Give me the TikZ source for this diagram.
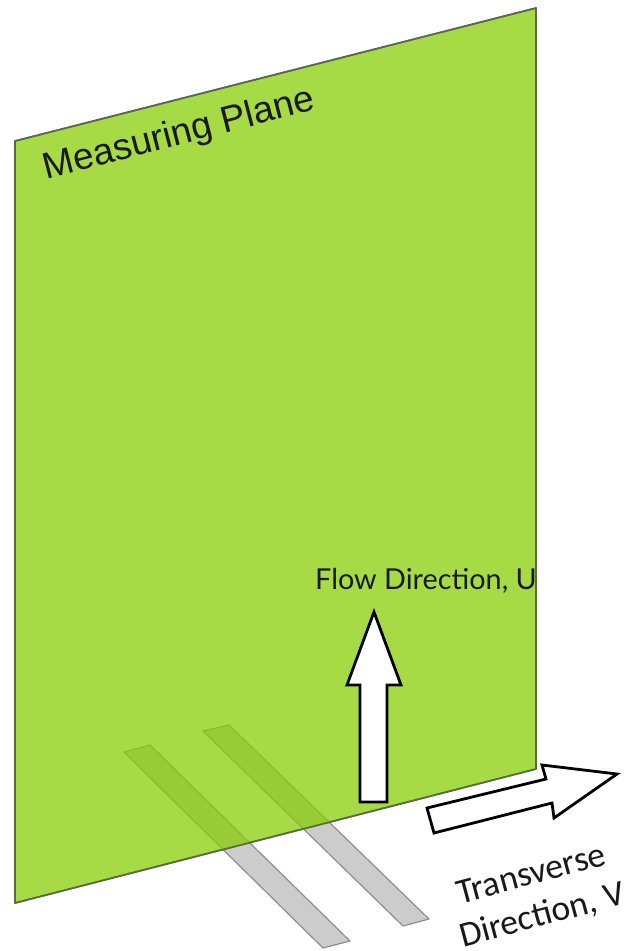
\documentclass[tikz,border=0pt]{standalone}
\usepackage{fontspec}
\setmainfont{Liberation Sans}
\newfontfamily\flowfont{Lato}
\newfontfamily\transfont{Carlito}
\definecolor{planegreen}{HTML}{A7DB45}
\definecolor{stripgreen}{HTML}{98CC35}
\definecolor{stripedge}{HTML}{8ABB30}
\definecolor{stripgrey}{HTML}{CCCCCC}
\definecolor{stripline}{HTML}{8E8E8E}
\definecolor{planeline}{HTML}{5A6A48}
\tikzset{
  planeshape/.style={fill=planegreen,draw=planeline,line width=1.2pt,line join=round},
  stripbelow/.style={fill=stripgrey,draw=stripline,line width=0.9pt,line join=round},
  stripabove/.style={fill=stripgreen,draw=stripedge,line width=0.9pt,line join=round},
  bigarrow/.style={fill=white,draw=black,line width=2.1pt,line join=miter,miter limit=10},
  lbl/.style={inner sep=0pt,text=black!90,align=center}
}
\begin{document}
\begin{tikzpicture}[x=0.75pt,y=-0.75pt]
\useasboundingbox (0,0) rectangle (632,951);
\def\stripA{(124,752) -- (150,745) -- (350,941) -- (323,948) -- cycle}
\def\stripB{(203,731) -- (229,725) -- (429,919) -- (403,926) -- cycle}
\def\planepath{(15,141) -- (536,8) -- (536,769) -- (15,903) -- cycle}
\draw[stripbelow] \stripA;
\draw[stripbelow] \stripB;
\draw[planeshape] \planepath;
\begin{scope}
\clip \planepath;
\draw[stripabove] \stripA;
\draw[stripabove] \stripB;
\end{scope}
\draw[planeline,line width=1.2pt,line join=round] \planepath;
\draw[bigarrow] (427,808) -- (546,779) -- (542,765) -- (617,774) -- (554,818) -- (552,803) -- (434,833) -- cycle;
\draw[bigarrow] (374,612) -- (401,685) -- (387,685) -- (387,802) -- (360,802) -- (360,685) -- (347,685) -- cycle;
\node[lbl,font=\flowfont\fontsize{21.6}{25}\selectfont] (flow) at (426,581) {Flow Direction, U};
\node[lbl,rotate=14.5,font=\fontsize{27.8}{32}\selectfont] (plane) at (179,135) {Measuring Plane};
\node[lbl,rotate=15,font=\transfont\fontsize{26.7}{32}\selectfont] (trans) at (537,896) {Transverse\\Direction, V};
\end{tikzpicture}
\end{document}
